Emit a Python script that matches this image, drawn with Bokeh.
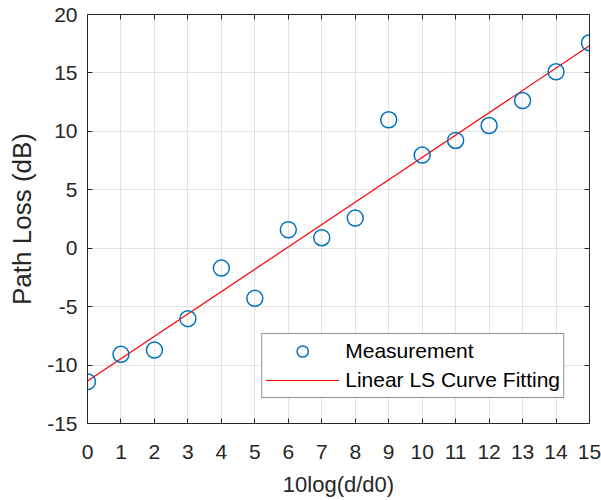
from bokeh.plotting import figure
from bokeh.models import FixedTicker, LinearAxis, Range1d, Legend, LegendItem
from bokeh.embed import file_html
from bokeh.resources import INLINE

# Data
x_meas = [0, 1, 2, 3, 4, 5, 6, 7, 8, 9, 10, 11, 12, 13, 14, 15]
y_meas = [-11.42, -9.08, -8.72, -6.03, -1.7, -4.29, 1.58, 0.9, 2.58, 10.99,
          7.97, 9.22, 10.5, 12.64, 15.1, 17.58]
x_fit = [0, 15]
y_fit = [-11.37, 17.33]
x_ticks = list(range(0, 16))
y_ticks = [-15, -10, -5, 0, 5, 10, 15, 20]
y_tick_labels = ["-15", "-10", "-5", "0", "5", "10", "15", "20"]
x_title = "10log(d/d0)"
y_title = "Path Loss (dB)"

FONT = "Liberation Sans"
DARK = "#262626"
GRID = "#e3e3e3"

p = figure(width=601, height=500, output_backend="svg", toolbar_location=None,
           x_range=Range1d(0, 15), y_range=Range1d(-15, 20),
           min_border_left=87, min_border_right=12, min_border_top=14,
           min_border_bottom=77)
p.outline_line_color = None

p.xaxis.ticker = FixedTicker(ticks=x_ticks)
p.yaxis.ticker = FixedTicker(ticks=y_ticks)
p.yaxis.major_label_overrides = {float(t): s for t, s in zip(y_ticks, y_tick_labels)}
for ax in (p.xaxis[0], p.yaxis[0]):
    ax.major_tick_in = 5
    ax.major_tick_out = 0
    ax.minor_tick_line_color = None
    ax.axis_line_color = DARK
    ax.major_tick_line_color = DARK
    ax.major_label_text_color = DARK
    ax.major_label_text_font = FONT
    ax.major_label_text_font_size = "21px"
    ax.axis_label_text_font = FONT
    ax.axis_label_text_font_style = "normal"
    ax.axis_label_text_color = DARK

p.xaxis.axis_label = x_title
p.yaxis.axis_label = y_title
p.xaxis.axis_label_text_font_size = "22px"
p.yaxis.axis_label_text_font_size = "26px"
p.xaxis.major_label_standoff = 21
p.xaxis.axis_label_standoff = 10
p.yaxis.major_label_standoff = 10
p.yaxis.axis_label_standoff = 7

for loc, tick in (("above", x_ticks), ("right", y_ticks)):
    ax = LinearAxis(ticker=FixedTicker(ticks=tick), major_tick_in=5, major_tick_out=0,
                    minor_tick_line_color=None, axis_line_color=DARK,
                    major_tick_line_color=DARK, major_label_text_color=None,
                    major_label_text_font_size="1px", major_label_standoff=0)
    p.add_layout(ax, loc)

p.xgrid.ticker = FixedTicker(ticks=x_ticks)
p.ygrid.ticker = FixedTicker(ticks=y_ticks)
p.grid.grid_line_color = GRID
p.grid.grid_line_width = 1

fit = p.line(x_fit, y_fit, line_color="#ff0000", line_width=1.2)
meas = p.scatter(x_meas, y_meas, marker="circle", size=16, fill_color=None,
                 line_color="#0072bd", line_width=1.5)

legend = Legend(items=[LegendItem(label="Measurement", renderers=[meas]),
                       LegendItem(label="Linear LS Curve Fitting", renderers=[fit])],
                location="bottom_right", margin=25, padding=3, spacing=1,
                glyph_width=74, glyph_height=28, label_height=24, label_standoff=6,
                label_text_font=FONT, label_text_font_size="21px",
                label_text_color="#000000",
                border_line_color=DARK, border_line_width=1,
                background_fill_color="white", background_fill_alpha=1)
p.add_layout(legend, "center")

open("out.html", "w").write(file_html(p, INLINE))
